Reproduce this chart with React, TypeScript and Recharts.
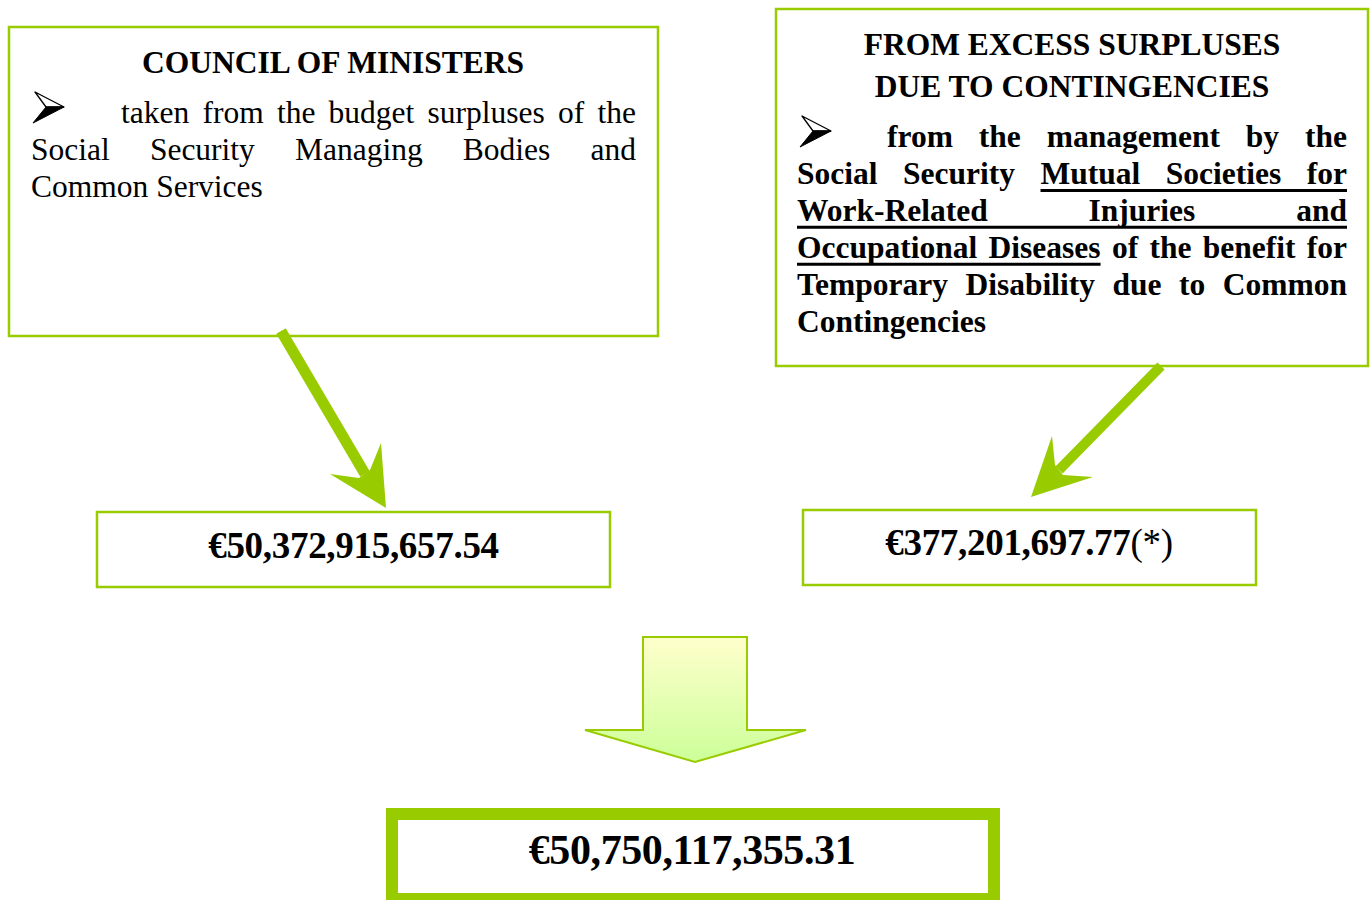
import React from 'react';
import { ComposedChart, XAxis, YAxis, ReferenceArea, ReferenceLine, Customized } from 'recharts';

// ---------- data ----------
const sourceTitles: string[][] = [
  ['COUNCIL OF MINISTERS'],
  ['FROM EXCESS SURPLUSES', 'DUE TO CONTINGENCIES'],
];
const sourceAmounts: number[] = [50372915657.54, 377201697.77];
const amountNotes: string[] = ['', '(*)'];
const totalAmount = 50750117355.31;

const councilLines: string[][] = [
  ['taken', 'from', 'the', 'budget', 'surpluses', 'of', 'the'],
  ['Social', 'Security', 'Managing', 'Bodies', 'and'],
  ['Common', 'Services'],
];
const excessLines: string[][] = [
  ['from', 'the', 'management', 'by', 'the'],
  ['Social', 'Security', 'Mutual', 'Societies', 'for'],
  ['Work-Related', 'Injuries', 'and'],
  ['Occupational', 'Diseases', 'of', 'the', 'benefit', 'for'],
  ['Temporary', 'Disability', 'due', 'to', 'Common'],
  ['Contingencies'],
];
// underlined word ranges per line of the second box [from, to]
const excessUnderline: (number[] | null)[] = [null, [2, 4], [0, 2], [0, 1], null, null];

// ---------- style ----------
const GREEN = '#99cc00';
const SERIF = '"Liberation Serif", "Times New Roman", Times, serif';
const BODY = 31.5;

const fmt = (v: number) =>
  v.toLocaleString('en-US', { minimumFractionDigits: 2, maximumFractionDigits: 2 });

let ctx: CanvasRenderingContext2D | null = null;
function measure(text: string, bold: boolean, size: number) {
  if (!ctx && typeof document !== 'undefined') {
    ctx = document.createElement('canvas').getContext('2d');
  }
  if (!ctx) return text.length * size * 0.5;
  ctx.font = `${bold ? 'bold ' : ''}${size}px "Liberation Serif"`;
  return ctx.measureText(text).width;
}

function Line({
  words, x0, x1, y, bold, justify, ul,
}: { words: string[]; x0: number; x1: number; y: number; bold: boolean; justify: boolean; ul?: number[] | null }) {
  const widths = words.map((w) => measure(w, bold, BODY));
  const space = measure(' ', bold, BODY);
  const total = widths.reduce((a, b) => a + b, 0);
  const gap = justify && words.length > 1 ? (x1 - x0 - total) / (words.length - 1) : space;
  const xs: number[] = [];
  let cx = x0;
  widths.forEach((w) => {
    xs.push(cx);
    cx += w + gap;
  });
  return (
    <g>
      {words.map((w, i) => (
        <text key={i} x={xs[i]} y={y} fontFamily={SERIF} fontSize={BODY} fontWeight={bold ? 'bold' : 'normal'} fill="#000">
          {w}
        </text>
      ))}
      {ul ? (
        <line
          x1={xs[ul[0]]}
          x2={xs[ul[1]] + widths[ul[1]]}
          y1={y + 6.5}
          y2={y + 6.5}
          stroke="#000"
          strokeWidth={3}
        />
      ) : null}
    </g>
  );
}

function Bullet({ x, baseline }: { x: number; baseline: number }) {
  const y = baseline - 31;
  const A = `${x + 2},${y}`;
  const T = `${x + 31},${y + 15}`;
  const B = `${x},${y + 31}`;
  const N = `${x + 13},${y + 15}`;
  return (
    <g>
      <polygon points={`${A} ${T} ${N}`} fill="#fff" stroke="#000" strokeWidth={1.3} strokeLinejoin="round" />
      <polygon points={`${N} ${T} ${B}`} fill="#000" stroke="#000" strokeWidth={1} strokeLinejoin="round" />
    </g>
  );
}

function Overlay() {
  return (
    <g>
      <defs>
        <linearGradient id="blockGrad" x1="0" y1="0" x2="0" y2="1">
          <stop offset="0%" stopColor="#ffffcc" />
          <stop offset="100%" stopColor="#ccff99" />
        </linearGradient>
      </defs>

      {/* arrow heads */}
      <polygon points="386,508 330,474 359,478 370,470 381,443" fill={GREEN} />
      <polygon points="1031,497 1052,436 1055,465 1063,475 1093,477" fill={GREEN} />

      {/* block arrow */}
      <polygon
        points="643,637 747,637 747,730 806,730 695,762 585,730 643,730"
        fill="url(#blockGrad)"
        stroke={GREEN}
        strokeWidth={2}
      />

      {/* box 1 */}
      <text x={333} y={73} textAnchor="middle" fontFamily={SERIF} fontSize={BODY} fontWeight="bold">
        {sourceTitles[0][0]}
      </text>
      <Bullet x={33} baseline={123} />
      {councilLines.map((words, i) => (
        <Line
          key={i}
          words={words}
          x0={i === 0 ? 121 : 31}
          x1={636}
          y={123 + i * 37}
          bold={false}
          justify={i < councilLines.length - 1}
        />
      ))}

      {/* box 2 */}
      {sourceTitles[1].map((t, i) => (
        <text key={i} x={1072} y={55 + i * 42} textAnchor="middle" fontFamily={SERIF} fontSize={BODY} fontWeight="bold">
          {t}
        </text>
      ))}
      <Bullet x={800} baseline={147} />
      {excessLines.map((words, i) => (
        <Line
          key={i}
          words={words}
          x0={i === 0 ? 887 : 797}
          x1={1347}
          y={147 + i * 36.9}
          bold
          justify={i < excessLines.length - 1}
          ul={excessUnderline[i]}
        />
      ))}

      {/* amounts */}
      <text x={353.5} y={558} textAnchor="middle" fontFamily={SERIF} fontSize={37} fontWeight="bold" letterSpacing={-0.3}>
        {'€' + fmt(sourceAmounts[0]) + amountNotes[0]}
      </text>
      <text x={1029} y={555} textAnchor="middle" fontFamily={SERIF} fontSize={37} fontWeight="bold" letterSpacing={-0.3}>
        {'€' + fmt(sourceAmounts[1])}
        <tspan fontWeight="normal">{amountNotes[1]}</tspan>
      </text>
      <text x={692} y={864} textAnchor="middle" fontFamily={SERIF} fontSize={42} fontWeight="bold" letterSpacing={-0.4}>
        {'€' + fmt(totalAmount)}
      </text>
    </g>
  );
}

export default function App() {
  return (
    <div style={{ position: 'absolute', left: 0, top: 0, width: 1370, height: 900, background: '#fff' }}>
      <ComposedChart width={1370} height={900} margin={{ top: 0, right: 0, bottom: 0, left: 0 }} data={[]}>
        <XAxis type="number" dataKey="x" domain={[0, 1370]} hide allowDataOverflow />
        <YAxis type="number" dataKey="y" domain={[0, 900]} reversed hide allowDataOverflow />

        <ReferenceArea x1={9} x2={658} y1={27} y2={336} fill="none" fillOpacity={0} stroke={GREEN} strokeWidth={2.5} ifOverflow="visible" />
        <ReferenceArea x1={776} x2={1368} y1={9} y2={366} fill="none" fillOpacity={0} stroke={GREEN} strokeWidth={2.5} ifOverflow="visible" />
        <ReferenceArea x1={97} x2={610} y1={512} y2={587} fill="none" fillOpacity={0} stroke={GREEN} strokeWidth={2.5} ifOverflow="visible" />
        <ReferenceArea x1={803} x2={1256} y1={510} y2={585} fill="none" fillOpacity={0} stroke={GREEN} strokeWidth={2.5} ifOverflow="visible" />
        <ReferenceArea x1={392} x2={994} y1={814} y2={899} fill="none" fillOpacity={0} stroke={GREEN} strokeWidth={12} ifOverflow="visible" />

        <ReferenceLine segment={[{ x: 281, y: 331 }, { x: 365, y: 474 }]} stroke={GREEN} strokeWidth={11} ifOverflow="visible" />
        <ReferenceLine segment={[{ x: 1161, y: 366 }, { x: 1059, y: 470 }]} stroke={GREEN} strokeWidth={10} ifOverflow="visible" />

        <Customized component={<Overlay />} />
      </ComposedChart>
    </div>
  );
}
